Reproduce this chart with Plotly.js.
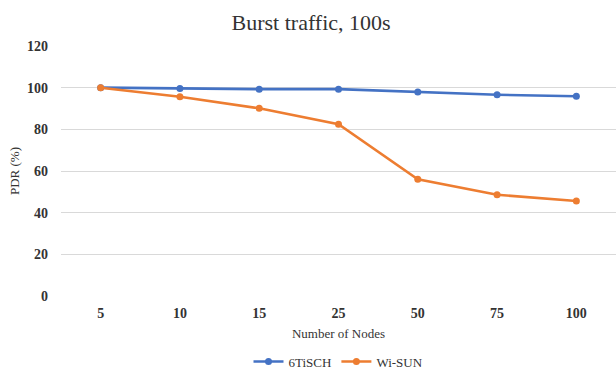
<!DOCTYPE html>
<html>
<head>
<meta charset="utf-8">
<script src="https://cdn.plot.ly/plotly-3.0.1.min.js"></script>
<style>html,body{margin:0;padding:0;background:#fff;}#chart{width:616px;height:369px;}</style>
</head>
<body>
<div id="chart"></div>
<script>
const categories = ["5", "10", "15", "25", "50", "75", "100"];
const tischValues = [100, 99.6, 99.3, 99.3, 97.9, 96.6, 95.9];
const wisunValues = [100, 95.6, 90.1, 82.5, 56.0, 48.6, 45.6];
const seriesNames = ["6TiSCH", "Wi-SUN"];
const yTicks = [0, 20, 40, 60, 80, 100, 120];

const serif = 'Liberation Serif';

const traces = [
  {x: categories, y: tischValues, name: seriesNames[0], type: 'scatter', mode: 'lines+markers',
   line: {color: '#4472C4', width: 2.6}, marker: {color: '#4472C4', size: 7, symbol: 'circle'}},
  {x: categories, y: wisunValues, name: seriesNames[1], type: 'scatter', mode: 'lines+markers',
   line: {color: '#ED7D31', width: 2.6}, marker: {color: '#ED7D31', size: 7, symbol: 'circle'}}
];

const layout = {
  width: 616, height: 369,
  margin: {l: 61, r: 0, t: 46, b: 73},
  paper_bgcolor: '#fff', plot_bgcolor: '#fff',
  font: {family: serif, color: '#333'},
  title: {text: 'Burst traffic, 100s', font: {family: serif, size: 22, color: '#333'},
          x: 0.505, xanchor: 'center', y: 0.94, yanchor: 'middle', yref: 'container'},
  xaxis: {type: 'category', range: [-0.5, 6.5], showgrid: false, zeroline: false, showline: false,
          ticks: '', tickfont: {family: serif, size: 14, color: '#333', weight: 'bold'},
          ticklabelstandoff: 7, automargin: false,
          title: {text: 'Number of Nodes', font: {family: serif, size: 13, color: '#333'}, standoff: 8}},
  yaxis: {range: [0, 120], tickvals: yTicks, showgrid: true, gridcolor: '#d9d9d9', gridwidth: 1,
          zeroline: false, showline: false, ticks: '', automargin: false,
          tickfont: {family: serif, size: 14, color: '#333', weight: 'bold'},
          ticklabelstandoff: 12,
          title: {text: 'PDR (%)', font: {family: serif, size: 13, color: '#333'}, standoff: 4}},
  showlegend: true,
  legend: {orientation: 'h', x: 0.5, xanchor: 'center', yref: 'container', y: 0.02, yanchor: 'middle',
           font: {family: serif, size: 13, color: '#333'}, itemwidth: 30, bgcolor: 'rgba(0,0,0,0)'}
};

Plotly.newPlot('chart', traces, layout, {displayModeBar: false, staticPlot: true});
</script>
</body>
</html>
